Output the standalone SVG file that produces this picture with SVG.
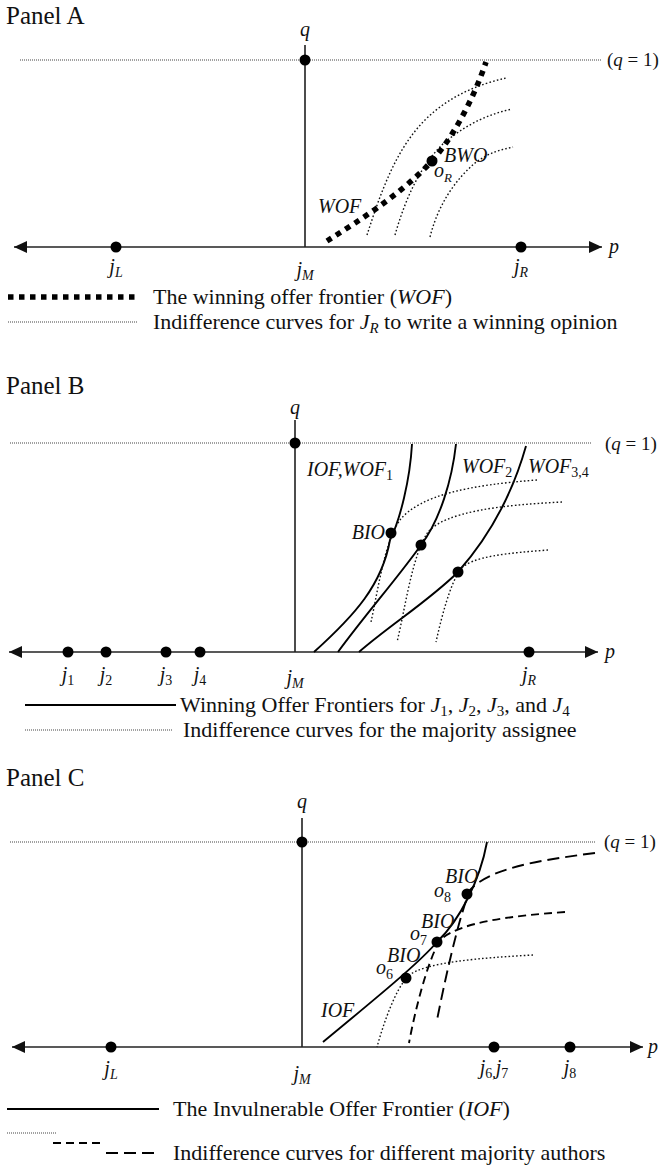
<svg xmlns="http://www.w3.org/2000/svg" width="660" height="1166" viewBox="0 0 660 1166">
<style>
text{font-family:"Liberation Serif","Times New Roman",serif;fill:#111}
.title{font-size:25px}
.leg{font-size:22px}
.lab{font-size:20px;font-style:italic}
.sm{font-size:14px}
.q1{font-size:19px}
.it{font-style:italic}
.axis{stroke:#222;stroke-width:1.6;fill:none}
.vax{stroke:#111;stroke-width:1.5}
.topl{stroke:#444;stroke-width:1.2;stroke-dasharray:1 1}
.wof{stroke:#000;stroke-width:5.5;stroke-dasharray:5.5 5.5;fill:none}
.ind{stroke:#111;stroke-width:1.4;stroke-dasharray:1.6 2.2;fill:none}
.sol{stroke:#000;stroke-width:1.9;fill:none}
.dsh1{stroke:#000;stroke-width:1.9;stroke-dasharray:8 5;fill:none}
.dsh2{stroke:#000;stroke-width:1.9;stroke-dasharray:12 6;fill:none}
.dot{fill:#000}
</style>
<defs>
<marker id="arr" viewBox="0 0 13 12" refX="13" refY="6" markerWidth="13" markerHeight="12" markerUnits="userSpaceOnUse" orient="auto-start-reverse"><path d="M0,0 L13,6 L0,12 z" fill="#111"/></marker>
</defs>

<g id="panelA">
<text x="6" y="24" class="title">Panel A</text>
<text x="305" y="36" class="lab" text-anchor="middle">q</text>
<line x1="20" y1="60" x2="602" y2="60" class="topl"/>
<text x="607" y="66" class="q1">(<tspan class="it">q</tspan> = 1)</text>
<line x1="305" y1="45" x2="305" y2="247" class="vax"/>
<path d="M14,247 H602" class="axis" marker-start="url(#arr)" marker-end="url(#arr)"/>
<text x="609" y="253" class="lab">p</text>
<g id="A-connectors">
<path d="M367,235 C380,195 395,150 425,120 C450,95 480,84 506,78" class="ind"/>
<path d="M395,235 C405,200 420,165 445,142 C470,122 490,114 512,109" class="ind"/>
<path d="M430,237 C438,205 455,180 475,163 C490,152 500,150 513,147" class="ind"/>
<path d="M327,241 C360,220 400,195 432,161 C455,135 475,95 486,62" class="wof"/>
</g>
<g id="A-nodes">
<circle cx="305" cy="60" r="5.5" class="dot"/>
<circle cx="116" cy="247" r="5.5" class="dot"/>
<circle cx="521" cy="247" r="5.5" class="dot"/>
<circle cx="432" cy="161" r="5.5" class="dot"/>
</g>
<text x="318" y="213" class="lab" font-size="18">WOF</text>
<text x="434" y="177" class="lab" font-size="18">o<tspan font-size="13" dy="5">R</tspan></text>
<text x="444" y="162" class="lab" font-size="15">BWO</text>
<text x="116" y="273" class="lab" text-anchor="middle">j<tspan class="sm" dy="4">L</tspan></text>
<text x="305" y="276" class="lab" text-anchor="middle">j<tspan class="sm" dy="4">M</tspan></text>
<text x="521" y="273" class="lab" text-anchor="middle">j<tspan class="sm" dy="4">R</tspan></text>
<g id="A-legend">
<line x1="8" y1="297" x2="138" y2="297" class="wof"/>
<text x="153" y="304" class="leg">The winning offer frontier (<tspan class="it">WOF</tspan>)</text>
<line x1="8" y1="322" x2="138" y2="322" class="topl"/>
<text x="153" y="329" class="leg">Indifference curves for <tspan class="it">J</tspan><tspan class="it" font-size="15" dy="4">R</tspan><tspan dy="-4"> to write a winning opinion</tspan></text>
</g>
</g>

<g id="panelB">
<text x="6" y="394" class="title">Panel B</text>
<text x="295" y="414" class="lab" text-anchor="middle">q</text>
<line x1="10" y1="443" x2="592" y2="443" class="topl"/>
<text x="605" y="450" class="q1">(<tspan class="it">q</tspan> = 1)</text>
<line x1="295" y1="420" x2="295" y2="652" class="vax"/>
<path d="M9,652 H598" class="axis" marker-start="url(#arr)" marker-end="url(#arr)"/>
<text x="605" y="658" class="lab">p</text>
<g id="B-connectors">
<path d="M412,444 C410,480 400,520 390,540 C382,585 355,615 314,652" class="sol"/>
<path d="M456,444 C452,480 440,520 421,545 C400,575 365,615 338,652" class="sol"/>
<path d="M526,446 C515,485 495,530 458,572 C430,600 390,625 359,652" class="sol"/>
<path d="M537,480 C470,485 420,495 400,520 C385,540 378,590 371,622" class="ind"/>
<path d="M562,502 C500,505 445,512 428,532 C412,555 405,610 397,642" class="ind"/>
<path d="M548,550 C510,553 470,556 460,570 C450,585 442,615 436,642" class="ind"/>
</g>
<g id="B-nodes">
<circle cx="295" cy="443" r="5.5" class="dot"/>
<circle cx="391" cy="533" r="5.5" class="dot"/>
<circle cx="421" cy="545" r="5.5" class="dot"/>
<circle cx="458" cy="572" r="5.5" class="dot"/>
<circle cx="68" cy="652" r="5.5" class="dot"/>
<circle cx="106" cy="652" r="5.5" class="dot"/>
<circle cx="166" cy="652" r="5.5" class="dot"/>
<circle cx="200" cy="652" r="5.5" class="dot"/>
<circle cx="529" cy="652" r="5.5" class="dot"/>
</g>
<text x="307" y="476" class="lab" font-size="19">IOF,WOF<tspan class="sm" font-style="normal" dy="4">1</tspan></text>
<text x="462" y="473" class="lab" font-size="19">WOF<tspan class="sm" font-style="normal" dy="4">2</tspan></text>
<text x="528" y="473" class="lab" font-size="19">WOF<tspan class="sm" font-style="normal" dy="4">3,4</tspan></text>
<text x="385" y="539" class="lab" font-size="19" text-anchor="end">BIO</text>
<text x="68" y="681" class="lab" text-anchor="middle">j<tspan class="sm" font-style="normal" dy="4">1</tspan></text>
<text x="106" y="681" class="lab" text-anchor="middle">j<tspan class="sm" font-style="normal" dy="4">2</tspan></text>
<text x="166" y="681" class="lab" text-anchor="middle">j<tspan class="sm" font-style="normal" dy="4">3</tspan></text>
<text x="200" y="681" class="lab" text-anchor="middle">j<tspan class="sm" font-style="normal" dy="4">4</tspan></text>
<text x="295" y="684" class="lab" text-anchor="middle">j<tspan class="sm" dy="4">M</tspan></text>
<text x="529" y="681" class="lab" text-anchor="middle">j<tspan class="sm" dy="4">R</tspan></text>
<g id="B-legend">
<line x1="25" y1="705" x2="176" y2="705" class="sol"/>
<text x="180" y="712" class="leg">Winning Offer Frontiers for <tspan class="it">J</tspan><tspan font-size="15" dy="4">1</tspan><tspan dy="-4">, </tspan><tspan class="it">J</tspan><tspan font-size="15" dy="4">2</tspan><tspan dy="-4">, </tspan><tspan class="it">J</tspan><tspan font-size="15" dy="4">3</tspan><tspan dy="-4">, and </tspan><tspan class="it">J</tspan><tspan font-size="15" dy="4">4</tspan></text>
<line x1="25" y1="730" x2="173" y2="730" class="topl"/>
<text x="183" y="737" class="leg">Indifference curves for the majority assignee</text>
</g>
</g>

<g id="panelC">
<text x="6" y="786" class="title">Panel C</text>
<text x="302" y="808" class="lab" text-anchor="middle">q</text>
<line x1="10" y1="842" x2="595" y2="842" class="topl"/>
<text x="604" y="848" class="q1">(<tspan class="it">q</tspan> = 1)</text>
<line x1="302" y1="818" x2="302" y2="1047" class="vax"/>
<path d="M12,1047 H643" class="axis" marker-start="url(#arr)" marker-end="url(#arr)"/>
<text x="648" y="1053" class="lab">p</text>
<g id="C-connectors">
<path d="M487,842 C480,880 460,920 437,942 C420,962 380,995 323,1042" class="sol"/>
<path d="M533,955 C480,958 425,962 408,976 C395,990 383,1025 377,1047" class="ind"/>
<path d="M565,912 C510,916 460,922 440,940 C428,960 415,1010 409,1043" class="dsh1"/>
<path d="M595,853 C540,860 490,868 470,890 C458,920 445,980 437,1020" class="dsh2"/>
</g>
<g id="C-nodes">
<circle cx="302" cy="842" r="5.5" class="dot"/>
<circle cx="467" cy="894" r="5.5" class="dot"/>
<circle cx="437" cy="942" r="5.5" class="dot"/>
<circle cx="406" cy="978" r="5.5" class="dot"/>
<circle cx="111" cy="1047" r="5.5" class="dot"/>
<circle cx="494" cy="1047" r="5.5" class="dot"/>
<circle cx="570" cy="1047" r="5.5" class="dot"/>
</g>
<text x="434" y="897" class="lab" font-size="18">o<tspan font-size="14" font-style="normal" dy="5">8</tspan></text>
<text x="445" y="883" class="lab" font-size="14">BIO</text>
<text x="410" y="940" class="lab" font-size="18">o<tspan font-size="14" font-style="normal" dy="5">7</tspan></text>
<text x="421" y="928" class="lab" font-size="14">BIO</text>
<text x="376" y="974" class="lab" font-size="18">o<tspan font-size="14" font-style="normal" dy="5">6</tspan></text>
<text x="387" y="962" class="lab" font-size="14">BIO</text>
<text x="321" y="1017" class="lab" font-size="18.5">IOF</text>
<text x="111" y="1075" class="lab" text-anchor="middle">j<tspan class="sm" dy="4">L</tspan></text>
<text x="302" y="1080" class="lab" text-anchor="middle">j<tspan class="sm" dy="4">M</tspan></text>
<text x="494" y="1074" class="lab" text-anchor="middle">j<tspan class="sm" font-style="normal" dy="4">6,</tspan><tspan dy="-4">j</tspan><tspan class="sm" font-style="normal" dy="4">7</tspan></text>
<text x="570" y="1074" class="lab" text-anchor="middle">j<tspan class="sm" font-style="normal" dy="4">8</tspan></text>
<g id="C-legend">
<line x1="7" y1="1109" x2="159" y2="1109" class="sol"/>
<text x="173" y="1116" class="leg">The Invulnerable Offer Frontier (<tspan class="it">IOF</tspan>)</text>
<line x1="7" y1="1133" x2="57" y2="1133" class="topl"/>
<line x1="53" y1="1143" x2="105" y2="1143" stroke="#000" stroke-width="1.8" stroke-dasharray="8 5"/>
<line x1="106" y1="1153" x2="158" y2="1153" stroke="#000" stroke-width="1.8" stroke-dasharray="12 6"/>
<text x="173" y="1160" class="leg">Indifference curves for different majority authors</text>
</g>
</g>
</svg>
